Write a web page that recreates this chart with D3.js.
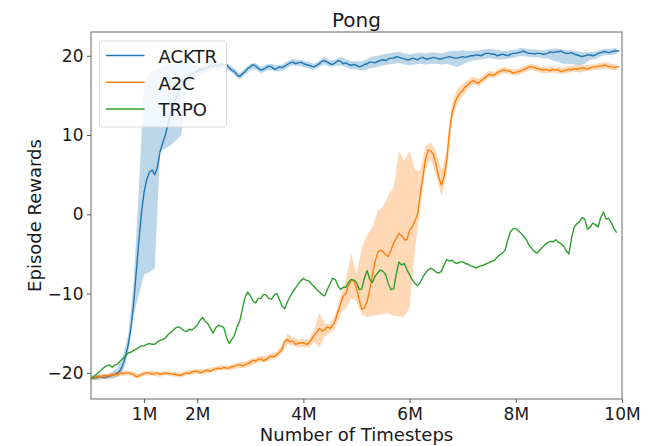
<!DOCTYPE html>
<html>
<head>
<meta charset="utf-8">
<script src="https://cdn.jsdelivr.net/npm/d3@7/dist/d3.min.js"></script>
<style>
  html, body { margin: 0; padding: 0; background: #fff; }
  svg { display: block; font-family: "DejaVu Sans", sans-serif; }
</style>
</head>
<body>
<svg id="chart" width="653" height="446"></svg>
<script>
// ---- Data (timesteps in millions) ----
const lineSteps = d3.range(0, 200).map(i => i * 0.05);  // 0.00 .. 9.95 M
const bandSteps = d3.range(0, 100).map(i => i / 10);    // 0.0 .. 9.9 M

const acktrMean = [
  -20.6,-20.7,-20.6,-20.5,-20.5,-20.6,-20.5,-20.4,-20.3,-20.2,-20.0,-19.7,-19.0,-17.9,-16.5,-14.5,-11.5,-7.5,-3.5,0.2,
  2.8,4.4,5.3,5.6,5.0,5.9,7.9,9.0,10.0,11.4,12.6,13.7,14.6,15.4,16.1,16.8,17.2,17.5,17.7,17.9,
  18.0,18.4,18.2,18.5,18.5,18.8,18.6,18.9,18.7,19.0,18.8,18.9,18.5,18.2,18.0,17.6,17.4,17.7,18.0,18.4,
  18.6,18.9,18.7,18.4,18.2,18.3,18.5,18.7,18.6,18.3,18.4,18.6,18.5,18.7,18.9,19.1,19.2,19.0,19.1,19.2,
  19.0,18.9,18.8,18.7,18.6,18.8,19.0,19.3,19.4,19.2,19.0,18.9,19.1,19.4,19.3,19.0,19.1,18.9,18.8,18.9,
  18.8,18.6,18.7,18.9,19.0,19.2,19.2,19.1,19.3,19.4,19.5,19.4,19.6,19.7,19.7,19.9,19.8,19.7,19.6,19.5,
  19.5,19.7,19.6,19.5,19.7,19.8,19.6,19.6,19.7,19.8,19.7,19.6,19.6,19.7,19.8,19.9,19.8,19.7,19.7,19.8,
  19.9,19.8,19.9,20.0,20.0,20.1,20.1,20.0,20.2,20.3,20.3,20.2,20.2,20.0,20.1,20.2,20.1,20.0,20.2,20.3,
  20.3,20.4,20.5,20.6,20.4,20.3,20.3,20.2,20.3,20.3,20.2,20.2,20.3,20.5,20.4,20.5,20.5,20.6,20.4,20.3,
  20.3,20.4,20.2,20.1,20.0,19.9,20.0,20.1,20.1,20.0,20.1,20.3,20.4,20.5,20.5,20.4,20.5,20.6,20.6,20.6
];
const acktrLow = [
  -20.9,-20.9,-20.8,-20.8,-20.7,-20.5,-19.9,-17.6,-12.8,-10.2,
  -7.6,-7.3,-6.8,7.9,8.3,8.7,9.3,10.0,15.8,17.0,
  17.5,17.7,18.0,18.2,18.3,18.4,18.1,17.6,17.0,17.6,
  18.2,18.3,17.8,18.1,18.2,18.0,18.1,18.5,18.8,18.7,
  18.6,18.4,18.2,18.6,18.9,18.6,18.7,18.8,18.6,18.3,
  18.3,18.1,18.3,18.5,18.6,18.8,18.9,19.0,19.1,18.9,
  18.8,18.9,19.0,18.9,19.0,19.0,18.9,19.0,18.8,18.6,
  18.9,19.2,19.4,19.5,19.6,19.7,19.6,19.5,19.6,19.7,
  19.8,20.0,19.9,19.8,19.8,19.7,19.7,19.4,19.2,19.0,
  19.0,18.9,18.8,19.0,19.5,19.6,19.9,20.1,20.1,20.2
];
const acktrHigh = [
  -20.3,-20.3,-20.2,-20.2,-19.9,-19.4,-18.0,-15.2,-9.0,3.0,
  16.5,17.8,18.2,18.5,18.8,19.0,19.0,19.2,19.0,18.8,
  18.7,18.8,19.0,19.0,19.1,19.2,18.9,18.4,17.8,18.4,
  19.0,19.1,18.6,18.9,19.0,18.8,18.9,19.3,19.6,19.5,
  19.4,19.2,19.0,19.4,19.9,19.4,19.5,19.8,19.6,19.3,
  19.3,19.3,19.6,19.9,20.0,20.2,20.3,20.4,20.5,20.3,
  20.2,20.3,20.4,20.3,20.4,20.4,20.3,20.5,20.6,20.6,
  20.7,20.6,20.6,20.7,20.8,20.9,20.8,20.7,20.6,20.7,
  20.8,21.0,20.9,20.8,20.8,20.7,20.8,20.9,20.9,20.8,
  20.7,20.6,20.5,20.4,20.5,20.5,20.8,20.9,20.9,21.0
];

const a2cMean = [
  -20.7,-20.6,-20.5,-20.4,-20.5,-20.3,-20.4,-20.3,-20.3,-20.2,-20.2,-20.0,-20.1,-20.0,-20.0,-20.1,-20.2,-20.5,-20.4,-20.2,
  -20.1,-20.0,-20.0,-20.2,-20.1,-20.0,-20.2,-20.1,-20.0,-20.1,-20.1,-20.2,-20.2,-20.3,-20.3,-20.1,-20.0,-20.1,-19.9,-19.8,
  -19.8,-20.0,-19.9,-19.7,-19.7,-19.8,-19.6,-19.5,-19.4,-19.5,-19.3,-19.4,-19.4,-19.2,-19.2,-19.0,-19.0,-19.1,-19.0,-18.8,
  -18.7,-18.4,-18.5,-18.3,-18.2,-18.5,-18.3,-18.0,-17.9,-18.0,-17.7,-17.4,-17.0,-16.0,-15.8,-16.1,-16.0,-16.4,-16.3,-16.2,
  -16.2,-16.4,-16.3,-15.8,-15.3,-14.9,-14.4,-14.7,-14.6,-14.2,-14.4,-14.0,-13.4,-12.3,-11.3,-10.3,-10.0,-9.0,-8.3,-8.4,
  -9.3,-10.8,-12.0,-11.8,-11.0,-9.5,-7.6,-6.0,-4.8,-4.5,-4.7,-5.1,-5.3,-4.5,-3.6,-3.0,-2.4,-2.7,-3.2,-3.2,
  -2.0,-1.6,-0.8,0.0,2.5,4.7,7.0,8.1,8.0,7.5,6.2,4.6,3.7,4.8,6.8,10.5,12.8,14.0,14.8,15.3,
  15.6,16.1,16.3,16.7,16.9,16.6,16.6,16.9,17.1,17.4,17.7,17.5,17.6,17.9,18.0,18.2,18.2,18.1,18.0,17.8,
  17.9,18.0,18.1,18.3,18.4,18.6,18.6,18.5,18.4,18.3,18.2,18.3,18.2,18.1,18.3,18.2,18.2,18.0,18.1,18.2,
  18.3,18.2,18.4,18.3,18.4,18.5,18.4,18.3,18.5,18.6,18.6,18.7,18.7,18.8,18.8,18.6,18.6,18.5,18.6,18.6
];
const a2cLow = [
  -20.9,-20.8,-20.8,-20.7,-20.6,-20.5,-20.4,-20.3,-20.5,-20.7,
  -20.4,-20.3,-20.4,-20.5,-20.3,-20.4,-20.5,-20.6,-20.3,-20.2,
  -20.1,-20.2,-20.0,-19.9,-19.7,-19.6,-19.7,-19.5,-19.4,-19.4,
  -19.1,-18.9,-18.6,-18.7,-18.3,-18.1,-17.5,-16.4,-16.5,-16.8,
  -16.7,-16.8,-16.1,-16.8,-15.4,-15.0,-14.4,-12.6,-11.8,-10.6,
  -11.0,-12.6,-13.0,-12.8,-12.7,-12.6,-12.5,-12.8,-12.9,-12.9,
  -11.8,-4.5,0.8,5.8,6.9,5.0,2.2,5.2,11.8,14.0,
  14.9,15.8,16.4,16.2,16.7,17.3,17.2,17.6,17.8,17.6,
  17.5,17.7,18.0,18.2,18.0,17.8,17.8,17.9,17.8,17.7,
  17.9,18.0,17.9,18.0,18.1,18.2,18.3,18.4,18.2,18.2
];
const a2cHigh = [
  -20.5,-20.2,-20.2,-20.1,-20.0,-19.9,-19.8,-19.7,-19.9,-20.1,
  -19.8,-19.7,-19.8,-19.9,-19.7,-19.8,-19.9,-20.0,-19.7,-19.6,
  -19.5,-19.6,-19.4,-19.3,-19.1,-19.0,-19.1,-18.9,-18.6,-18.6,
  -18.3,-18.1,-17.8,-17.9,-17.5,-17.3,-16.5,-15.1,-15.5,-15.8,
  -15.7,-15.8,-14.6,-12.4,-13.8,-13.8,-12.6,-10.3,-8.3,-4.9,
  -7.6,-4.2,-2.6,-1.6,0.4,1.0,2.4,3.4,8.0,6.8,
  8.0,5.6,5.5,8.6,9.1,7.9,5.4,8.2,14.0,15.8,
  16.5,17.0,17.4,17.1,17.6,18.1,18.0,18.4,18.6,18.4,
  18.3,18.5,18.8,19.0,18.8,18.6,18.6,18.7,18.6,18.5,
  18.7,18.8,18.9,18.8,18.9,19.0,19.1,19.2,19.0,19.0
];

const trpoMean = [
  -20.7,-20.5,-20.2,-19.9,-19.6,-19.3,-19.1,-19.0,-19.3,-19.0,-18.9,-18.5,-18.2,-17.8,-17.5,-17.4,-17.2,-17.0,-16.8,-16.6,
  -16.6,-16.4,-16.3,-16.4,-16.4,-16.1,-15.9,-15.8,-15.6,-15.2,-14.9,-14.6,-14.3,-14.2,-14.4,-14.7,-14.8,-14.5,-14.6,-14.3,
  -14.0,-13.4,-13.0,-13.5,-13.8,-14.4,-15.0,-14.3,-14.0,-14.1,-14.3,-15.5,-16.3,-15.8,-15.3,-14.2,-13.5,-12.0,-10.5,-9.8,
  -10.3,-10.9,-11.2,-10.6,-10.6,-10.1,-10.2,-10.6,-10.7,-10.2,-10.0,-10.8,-11.6,-11.9,-11.0,-10.4,-9.8,-9.3,-8.8,-8.4,
  -8.1,-8.3,-8.4,-8.8,-9.1,-9.5,-9.8,-10.1,-10.3,-9.5,-8.8,-8.1,-8.2,-9.0,-9.5,-9.2,-9.2,-8.6,-8.2,-8.3,
  -8.6,-9.5,-9.4,-8.0,-7.1,-8.2,-8.6,-7.8,-7.4,-7.0,-7.2,-7.6,-8.8,-9.5,-9.4,-7.5,-6.0,-6.4,-6.2,-7.0,
  -7.6,-8.3,-8.7,-9.0,-8.6,-7.9,-7.4,-7.0,-6.8,-7.0,-7.3,-7.4,-7.2,-6.4,-5.7,-5.9,-5.8,-6.1,-6.2,-6.0,
  -6.0,-6.2,-6.3,-6.5,-6.6,-6.8,-6.6,-6.5,-6.4,-6.2,-6.1,-5.9,-5.8,-5.4,-5.1,-4.9,-4.5,-3.2,-2.2,-1.8,
  -1.8,-2.1,-2.4,-2.8,-3.2,-3.9,-4.3,-4.7,-4.9,-4.5,-4.2,-3.8,-3.6,-3.4,-3.5,-3.2,-3.5,-3.7,-4.0,-4.6,
  -5.0,-3.0,-1.6,-1.2,-0.9,-0.4,-0.6,-1.9,-1.6,-1.1,-1.3,-1.6,-0.4,0.3,-0.6,-0.5,-1.1,-1.8,-2.3
];

const seriesNames = ["ACKTR", "A2C", "TRPO"];
const seriesColors = ["#1f77b4", "#ff7f0e", "#2ca02c"];

const xTickValues = [1, 2, 4, 6, 8, 10];
const xTickLabels = ["1M", "2M", "4M", "6M", "8M", "10M"];
const yTickValues = [-20, -10, 0, 10, 20];

const titleText = "Pong";
const xLabelText = "Number of Timesteps";
const yLabelText = "Episode Rewards";

// ---- Layout ----
const plot = { left: 91, right: 622, top: 32, bottom: 399 };
const svg = d3.select("#chart");

const x = d3.scaleLinear().domain([0, 10]).range([plot.left, plot.right]);
const y = d3.scaleLinear().domain([-23.3, 23.0]).range([plot.bottom, plot.top]);

svg.append("defs").append("clipPath").attr("id", "clip")
  .append("rect")
  .attr("x", plot.left).attr("y", plot.top)
  .attr("width", plot.right - plot.left).attr("height", plot.bottom - plot.top);

const g = svg.append("g").attr("clip-path", "url(#clip)");

const series = [
  { mean: acktrMean, low: acktrLow, high: acktrHigh },
  { mean: a2cMean, low: a2cLow, high: a2cHigh },
  { mean: trpoMean, low: null, high: null }
];

const area = (lo, hi) => d3.area()
  .x((d, i) => x(bandSteps[i]))
  .y0((d, i) => y(lo[i]))
  .y1((d, i) => y(hi[i]));

const line = d3.line()
  .x((d, i) => x(lineSteps[i]))
  .y(d => y(d));

series.forEach((s, k) => {
  if (s.low) {
    g.append("path")
      .attr("d", area(s.low, s.high)(s.low))
      .attr("fill", seriesColors[k])
      .attr("fill-opacity", 0.3)
      .attr("stroke", "none");
  }
  g.append("path")
    .attr("d", line(s.mean))
    .attr("fill", "none")
    .attr("stroke", seriesColors[k])
    .attr("stroke-width", 1.4)
    .attr("stroke-linejoin", "round");
});

// ---- Axes ----
const xAxis = d3.axisBottom(x)
  .tickValues(xTickValues)
  .tickFormat((d, i) => xTickLabels[i])
  .tickSize(4).tickPadding(5).tickSizeOuter(0);
const yAxis = d3.axisLeft(y)
  .tickValues(yTickValues)
  .tickFormat(d => d < 0 ? "\u2212" + Math.abs(d) : String(d))
  .tickSize(4).tickPadding(3.5).tickSizeOuter(0);

const gx = svg.append("g").attr("transform", `translate(0,${plot.bottom})`).call(xAxis);
const gy = svg.append("g").attr("transform", `translate(${plot.left},0)`).call(yAxis);
[gx, gy].forEach(a => {
  a.select(".domain").remove();
  a.selectAll(".tick line").attr("stroke", "#555").attr("stroke-width", 1);
  a.selectAll(".tick text")
    .attr("fill", "#1a1a1a")
    .style("font-size", "17px")
    .style("font-family", "'DejaVu Sans', sans-serif");
});

// spines
svg.append("rect")
  .attr("x", plot.left).attr("y", plot.top)
  .attr("width", plot.right - plot.left).attr("height", plot.bottom - plot.top)
  .attr("fill", "none").attr("stroke", "#666").attr("stroke-width", 1);

// labels
svg.append("text")
  .attr("x", (plot.left + plot.right) / 2).attr("y", 27)
  .attr("text-anchor", "middle")
  .style("font-size", "20px").attr("fill", "#1a1a1a")
  .text(titleText);

svg.append("text")
  .attr("x", (plot.left + plot.right) / 2).attr("y", 440.5)
  .attr("text-anchor", "middle")
  .style("font-size", "18px").attr("fill", "#1a1a1a")
  .text(xLabelText);

svg.append("text")
  .attr("transform", `translate(40.5,${(plot.top + plot.bottom) / 2}) rotate(-90)`)
  .attr("text-anchor", "middle")
  .style("font-size", "18px").attr("fill", "#1a1a1a")
  .text(yLabelText);

// ---- Legend ----
const legend = svg.append("g");
legend.append("rect")
  .attr("x", 99.5).attr("y", 41)
  .attr("width", 127).attr("height", 86)
  .attr("rx", 3).attr("ry", 3)
  .attr("fill", "#fff").attr("fill-opacity", 0.8)
  .attr("stroke", "#d9d9d9").attr("stroke-width", 1);

seriesNames.forEach((name, i) => {
  const cy = 55.5 + i * 26.7;
  legend.append("line")
    .attr("x1", 106).attr("x2", 144.5)
    .attr("y1", cy).attr("y2", cy)
    .attr("stroke", seriesColors[i]).attr("stroke-width", 1.5);
  legend.append("text")
    .attr("x", 158.5).attr("y", cy + 7.5)
    .style("font-size", "18px").attr("fill", "#1a1a1a")
    .text(name);
});
</script>
</body>
</html>
